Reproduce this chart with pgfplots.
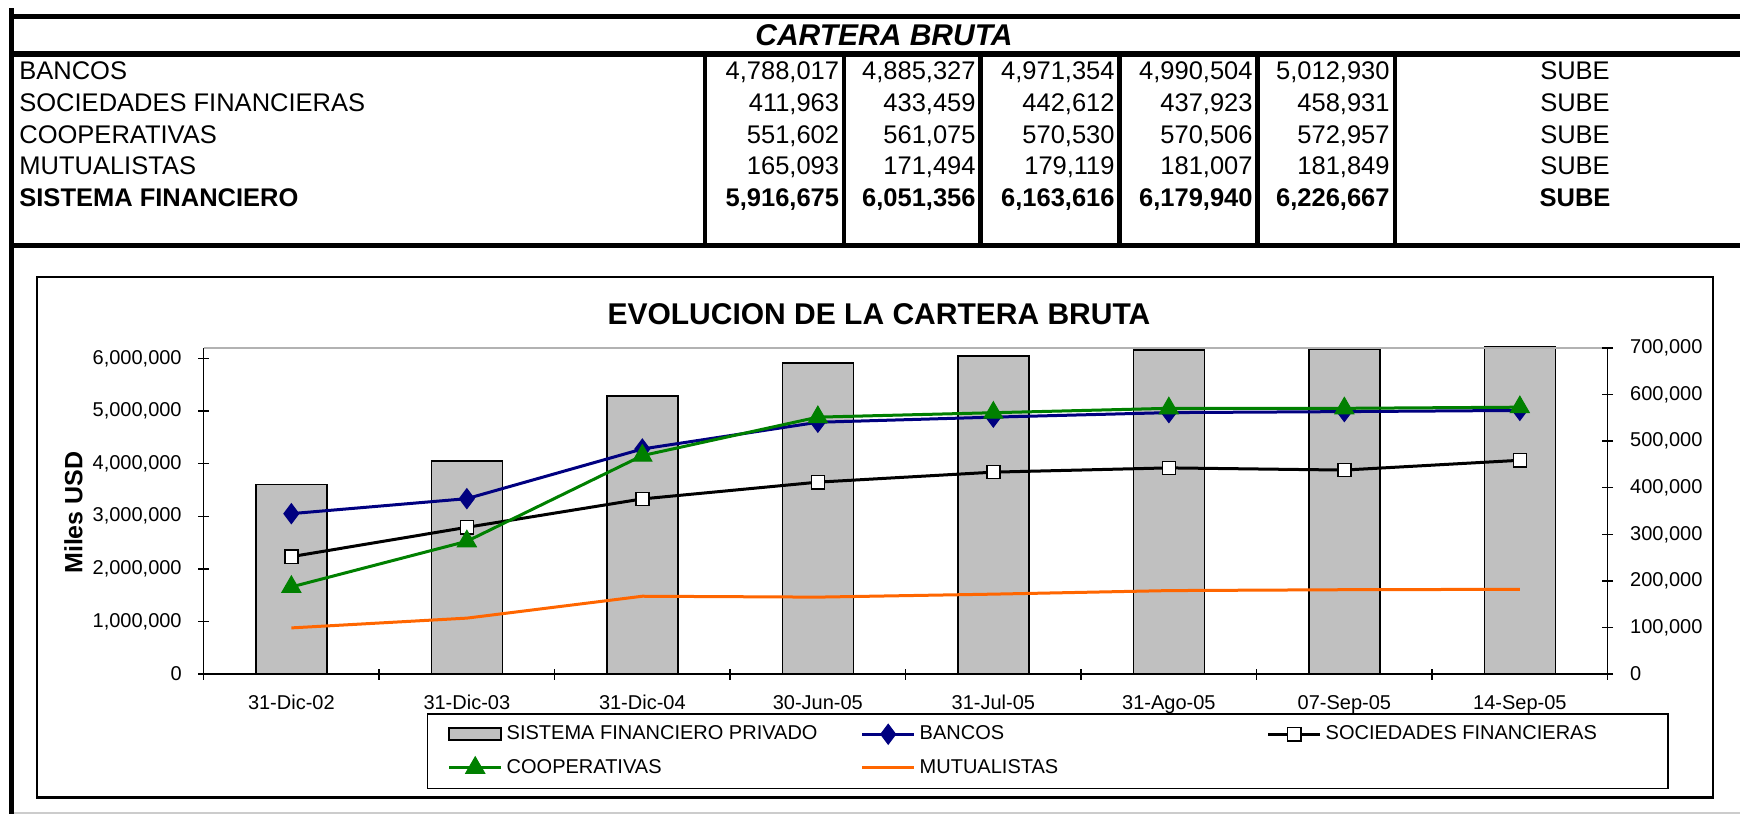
\documentclass[border=0pt]{standalone}
\usepackage{pgfplots}
\pgfplotsset{compat=1.18}
\usepackage{pgfplotstable}
\usepackage{fontspec}
\setmainfont{Liberation Sans}

\definecolor{barGray}{HTML}{C0C0C0}
\definecolor{navyB}{HTML}{000080}
\definecolor{greenC}{HTML}{008000}
\definecolor{orangeM}{HTML}{FF6600}

\pgfplotsset{
  mylinelegend/.style={legend image code/.code={\draw[mark repeat=2,mark phase=2,##1] plot coordinates {(0pt,0pt) (13pt,0pt) (26pt,0pt)};}},
  mybarlegend/.style={legend image code/.code={\draw[##1] (0pt,-3pt) rectangle (26pt,3pt);}},
  chartaxis/.style={
    at={(axo)}, anchor=south west,
    scale only axis, width=702pt, height=163pt,
    xmin=-0.5, xmax=7.5, ymin=0,
    axis line style={-, black, line width=0.75pt},
    tick align=center, major tick length=5.5pt,
    tick style={black, line width=0.75pt},
    scaled y ticks=false,
    tick label style={font=\fontsize{10}{12}\selectfont},
    /pgf/number format/assume math mode=true,
    /pgf/number format/fixed,
    /pgf/number format/precision=0,
    /pgf/number format/1000 sep={,},
  },
}

% x: 0 = 31-Dic-02 ... 7 = 14-Sep-05
\pgfplotstableread{
x sistema bancos sociedades cooperativas mutualistas
0 3600000 3050000 252000 187000 99000
1 4050000 3335000 315000 285000 120000
2 5290000 4280000 376000 469000 167000
3 5916675 4788017 411963 551602 165093
4 6051356 4885327 433459 561075 171494
5 6163616 4971354 442612 570530 179119
6 6179940 4990504 437923 570506 181007
7 6226667 5012930 458931 572957 181849
}\cartera

\newcommand{\tf}{\fontsize{12.75}{15}\selectfont}

\begin{document}
\begin{tikzpicture}[x=0.5pt,y=-0.5pt]
\fill[white] (0,0) rectangle (1740,814);

% tabla
\draw[line width=2.5pt] (11.5,8) -- (11.5,814);
\draw[line width=2.5pt] (10,16) -- (1740,16);
\draw[line width=3pt] (10,54) -- (1740,54);
\draw[line width=2.5pt] (10,245.5) -- (1740,245.5);
\foreach \cx in {705,844,980.5,1119.6,1257.5,1394.8}
  \draw[line width=2.2pt] (\cx,54) -- (\cx,245.5);
\draw[gray!40, line width=0.75pt] (14,813) -- (1740,813);

\node[font=\fontsize{15}{17}\selectfont\bfseries\itshape] at (884,35) {CARTERA BRUTA};

\begin{scope}[every node/.style={inner sep=0pt, font=\tf}]
\node[anchor=base west] at (19,79) {BANCOS};
\node[anchor=base west] at (19,111) {SOCIEDADES FINANCIERAS};
\node[anchor=base west] at (19,143) {COOPERATIVAS};
\node[anchor=base west] at (19,174) {MUTUALISTAS};
\node[anchor=base west, font=\tf\bfseries] at (19,206) {SISTEMA FINANCIERO};

\node[anchor=base east] at (839.5,79) {4,788,017};
\node[anchor=base east] at (976,79) {4,885,327};
\node[anchor=base east] at (1115,79) {4,971,354};
\node[anchor=base east] at (1253,79) {4,990,504};
\node[anchor=base east] at (1390,79) {5,012,930};

\node[anchor=base east] at (839.5,111) {411,963};
\node[anchor=base east] at (976,111) {433,459};
\node[anchor=base east] at (1115,111) {442,612};
\node[anchor=base east] at (1253,111) {437,923};
\node[anchor=base east] at (1390,111) {458,931};

\node[anchor=base east] at (839.5,143) {551,602};
\node[anchor=base east] at (976,143) {561,075};
\node[anchor=base east] at (1115,143) {570,530};
\node[anchor=base east] at (1253,143) {570,506};
\node[anchor=base east] at (1390,143) {572,957};

\node[anchor=base east] at (839.5,174) {165,093};
\node[anchor=base east] at (976,174) {171,494};
\node[anchor=base east] at (1115,174) {179,119};
\node[anchor=base east] at (1253,174) {181,007};
\node[anchor=base east] at (1390,174) {181,849};

\node[anchor=base east, font=\tf\bfseries] at (839.5,206) {5,916,675};
\node[anchor=base east, font=\tf\bfseries] at (976,206) {6,051,356};
\node[anchor=base east, font=\tf\bfseries] at (1115,206) {6,163,616};
\node[anchor=base east, font=\tf\bfseries] at (1253,206) {6,179,940};
\node[anchor=base east, font=\tf\bfseries] at (1390,206) {6,226,667};

\foreach \ry in {79,111,143,174} \node[anchor=base] at (1575,\ry) {SUBE};
\node[anchor=base, font=\tf\bfseries] at (1575,206) {SUBE};
\end{scope}

% marco del grafico
\draw[line width=1.1pt] (37,277) rectangle (1713,797.5);
\coordinate (axo) at (203.6,674);

% eje izquierdo: barras y bancos
\begin{axis}[chartaxis,
  ymax=6200000, clip=false,
  axis x line*=bottom, axis y line*=left,
  xtick={-0.5,0.5,...,7.5}, xticklabels={},
  extra x ticks={0,...,7},
  extra x tick labels={31-Dic-02,31-Dic-03,31-Dic-04,30-Jun-05,31-Jul-05,31-Ago-05,07-Sep-05,14-Sep-05},
  extra x tick style={major tick length=0pt, xticklabel style={yshift=-7pt}},
  ytick={0,1000000,...,6000000},
  yticklabel style={xshift=-4.7pt},
  ylabel={Miles USD},
  ylabel style={at={(axis description cs:-0.0927,0.495)}, anchor=center, font=\fontsize{12.5}{14}\selectfont\bfseries},
  title={EVOLUCION DE LA CARTERA BRUTA},
  title style={at={(axis description cs:0.481,1.067)}, anchor=center, font=\fontsize{15}{17}\selectfont\bfseries},
]
\addplot[ybar, bar width=0.405, fill=barGray, draw=black, line width=0.75pt] table[x=x,y=sistema]{\cartera};
\draw[gray!60, line width=0.75pt] (rel axis cs:0,1) -- (rel axis cs:1,1);
\addplot[navyB, line width=1.5pt, mark=diamond*, mark size=5pt, mark options={solid, line width=0.5pt}] table[x=x,y=bancos]{\cartera};
\end{axis}

% eje derecho: sociedades, cooperativas, mutualistas
\begin{axis}[chartaxis,
  ymax=700000,
  axis y line*=right, axis x line=none,
  ytick={0,100000,...,700000},
  yticklabel style={xshift=5pt},
  legend columns=3,
  legend style={at={(0.1591,-0.1196)}, anchor=north west, draw=black, line width=0.75pt,
    inner xsep=10pt, inner ysep=4pt, row sep=4.3pt, column sep=0pt,
    nodes={inner sep=2pt, text depth=0.15em}, cells={anchor=west},
    font=\fontsize{10}{12}\selectfont},
]
\addlegendimage{mybarlegend, fill=barGray, draw=black, line width=0.75pt}
\addlegendentry{\makebox[175pt][l]{SISTEMA FINANCIERO PRIVADO}}
\addlegendimage{mylinelegend, navyB, line width=1.5pt, mark=diamond*, mark size=5pt, mark options={solid, line width=0.5pt}}
\addlegendentry{\makebox[171.5pt][l]{BANCOS}}
\addplot[mylinelegend, black, line width=1.5pt, mark=square*, mark size=3.3pt, mark options={solid, fill=white, draw=black, line width=0.75pt}] table[x=x,y=sociedades]{\cartera};
\addlegendentry{\makebox[159pt][l]{SOCIEDADES FINANCIERAS}}
\addplot[mylinelegend, greenC, line width=1.5pt, mark=triangle*, mark size=5.5pt, mark options={solid, line width=0.5pt}] table[x=x,y=cooperativas]{\cartera};
\addlegendentry{\makebox[175pt][l]{COOPERATIVAS}}
\addplot[mylinelegend, orangeM, line width=1.5pt] table[x=x,y=mutualistas]{\cartera};
\addlegendentry{\makebox[171.5pt][l]{MUTUALISTAS}}
\end{axis}

\pgfresetboundingbox
\useasboundingbox (0,0) rectangle (1740,814);
\end{tikzpicture}
\end{document}
